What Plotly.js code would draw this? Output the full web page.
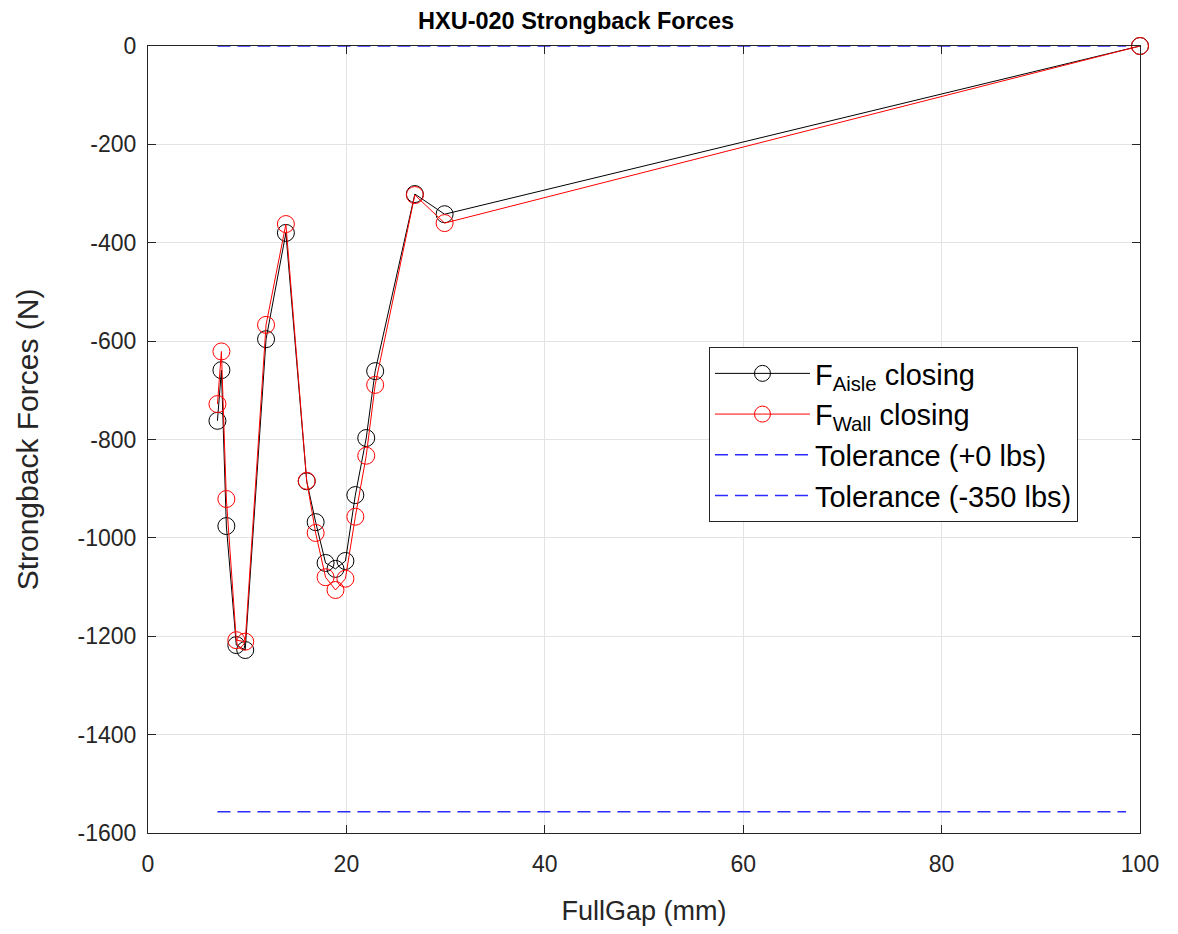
<!DOCTYPE html>
<html>
<head>
<meta charset="utf-8">
<script src="https://cdn.plot.ly/plotly-3.0.1.min.js"></script>
<style>html,body{margin:0;padding:0;background:#fff;}#chart{width:1178px;height:934px;}</style>
</head>
<body>
<div id="chart"></div>
<script>
const fullGap = [7.0, 7.4, 7.9, 8.9, 9.8, 11.9, 13.9, 16.0, 16.9, 17.9, 18.9, 19.9, 20.9, 22.0, 22.9, 26.9, 29.9, 100];
const fAisle = [-762, -659, -976, -1218, -1228, -596, -380, -885, -968, -1051, -1063, -1047, -913, -797, -661, -301, -342, 0];
const fWall = [-728, -621, -921, -1208, -1211, -567, -362, -884, -990, -1080, -1106, -1083, -957, -833, -689, -303, -360, 0];
const tolX = [7.0, 98.6];
const tolUpper = [0, 0];
const tolLower = [-1556.9, -1556.9];
const xTicks = [0, 20, 40, 60, 80, 100];
const yTicks = [-1600, -1400, -1200, -1000, -800, -600, -400, -200, 0];
const yTickText = ['-1600', '-1400', '-1200', '-1000', '-800', '-600', '-400', '-200', '0'];
const seriesNames = ['F<sub>Aisle</sub> closing', 'F<sub>Wall</sub> closing', 'Tolerance (+0 lbs)', 'Tolerance (-350 lbs)'];

const font = 'Liberation Sans, Arial, sans-serif';
const traces = [
  {x: fullGap, y: fAisle, name: seriesNames[0], mode: 'lines+markers', type: 'scatter', cliponaxis: false,
   line: {color: '#000000', width: 1}, marker: {symbol: 'circle-open', size: 17, color: '#000000', line: {width: 1}}},
  {x: fullGap, y: fWall, name: seriesNames[1], mode: 'lines+markers', type: 'scatter', cliponaxis: false,
   line: {color: '#ff0000', width: 1}, marker: {symbol: 'circle-open', size: 17, color: '#ff0000', line: {width: 1}}},
  {x: tolX, y: tolUpper, name: seriesNames[2], mode: 'lines', type: 'scatter', cliponaxis: false,
   line: {color: '#2b2bff', width: 1.5, dash: '13px,7px'}},
  {x: tolX, y: tolLower, name: seriesNames[3], mode: 'lines', type: 'scatter', cliponaxis: false,
   line: {color: '#2b2bff', width: 1.5, dash: '13px,7px'}}
];
const axisCommon = {
  showline: true, linecolor: '#262626', linewidth: 1, mirror: 'ticks',
  ticks: 'inside', ticklen: 8, tickcolor: '#262626',
  showgrid: true, gridcolor: '#e3e3e3', gridwidth: 1, zeroline: false,
  tickfont: {family: font, size: 23, color: '#262626'}
};
const layout = {
  width: 1178, height: 934,
  margin: {l: 148, r: 38, t: 46, b: 101},
  paper_bgcolor: '#ffffff', plot_bgcolor: '#ffffff',
  title: {text: '<b>HXU-020 Strongback Forces</b>', font: {family: font, size: 23.5, color: '#000000'}, x: 0.489, xanchor: 'center', y: 0.978, yanchor: 'middle'},
  xaxis: Object.assign({}, axisCommon, {range: [0, 100], tickmode: 'array', tickvals: xTicks, ticklabelstandoff: 10,
    title: {text: 'FullGap (mm)', font: {family: font, size: 27, color: '#262626'}, standoff: 25}}),
  yaxis: Object.assign({}, axisCommon, {range: [-1600, 0], tickmode: 'array', tickvals: yTicks, ticktext: yTickText, ticklabelstandoff: 6,
    title: {text: 'Strongback Forces (N)', font: {family: font, size: 30, color: '#262626'}, standoff: 30}}),
  showlegend: true,
  legend: {x: 0.5655, y: 0.6175, xanchor: 'left', yanchor: 'top', bgcolor: '#ffffff', bordercolor: '#262626', borderwidth: 1,
    font: {family: font, size: 29, color: '#000000'}, itemwidth: 95, tracegroupgap: 0}
};
Plotly.newPlot('chart', traces, layout, {displayModeBar: false, staticPlot: true});
</script>
</body>
</html>
